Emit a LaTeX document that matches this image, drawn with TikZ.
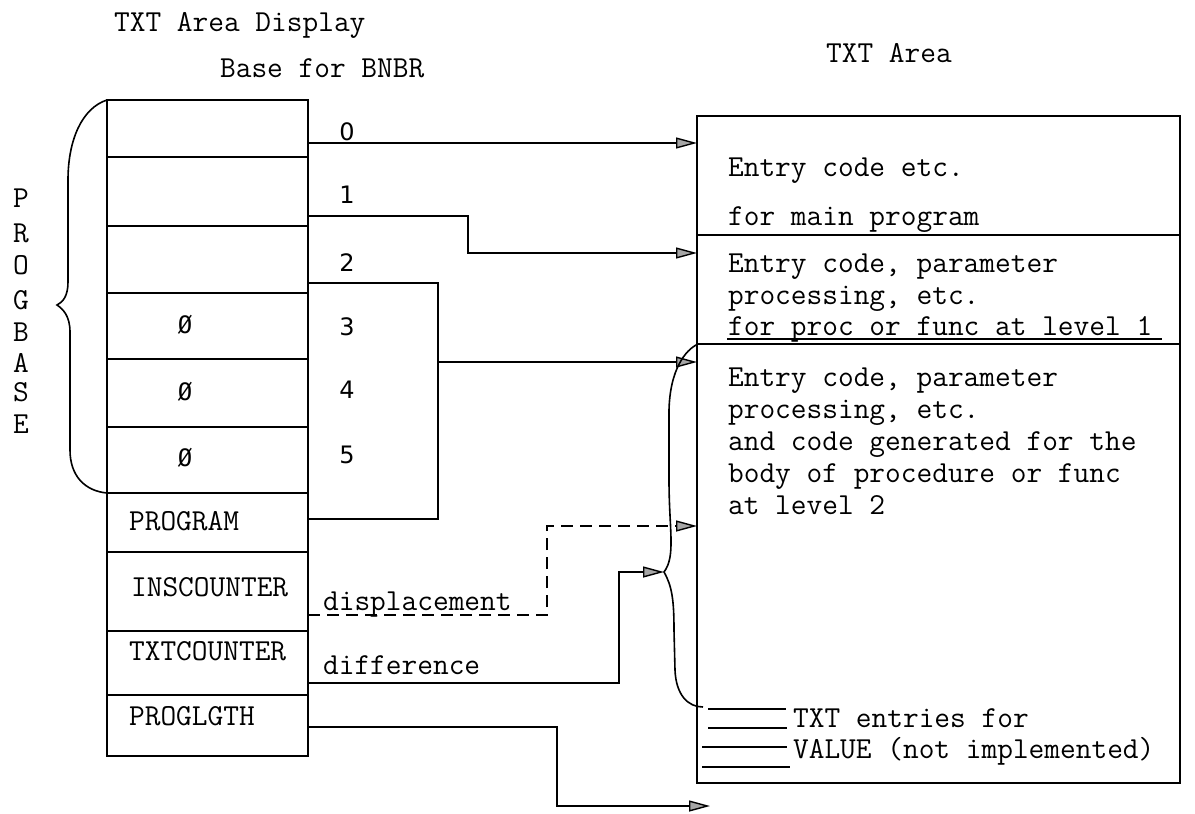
\documentclass[tikz,border=0pt]{standalone}
\usepackage{fontspec}
\newfontfamily\digfont{DejaVu Sans}
\newfontfamily\zerofont{DejaVu Sans Mono}
\usetikzlibrary{arrows.meta}
\begin{document}
\begin{tikzpicture}[x=1pt,y=-1pt,line width=2.2pt,
  txt/.style={font=\ttfamily\fontsize{30.5}{34}\selectfont,inner sep=0pt,anchor=base west},
  ltr/.style={font=\ttfamily\fontsize{30.5}{34}\selectfont,inner sep=0pt,anchor=base},
  dig/.style={font=\digfont\fontsize{24}{28}\selectfont,inner sep=0pt},
  zer/.style={font=\zerofont\fontsize{24}{28}\selectfont,inner sep=0pt},
  arr/.style={-{Triangle[length=21pt,width=11pt,fill=gray!70,line width=1.4pt]}},
  thin/.style={line width=1.6pt},
  dashline/.style={dash pattern=on 12pt off 7pt}]
\useasboundingbox (0,0) rectangle (1195,814);
% titles
\node[txt] (title1) at (113,31) {TXT Area Display};
\node[txt] (title2) at (219,77) {Base for BNBR};
\node[txt] (title3) at (825,62) {TXT Area};
% left column
\draw (107,100) rectangle (308,756);
\foreach \y in {157,226,293,359,427,493,552,631,695} \draw (107,\y) -- (308,\y);
\node[zer] (z3) at (185,325) {Ø};
\node[zer] (z4) at (185,392) {Ø};
\node[zer] (z5) at (185,458) {Ø};
\node[txt] (lprog) at (128,530) {PROGRAM};
\node[txt] (lins) at (130,596) {INSCOUNTER};
\node[txt] (ltxtc) at (128,660) {TXTCOUNTER};
\node[txt] (lplg) at (128,725) {PROGLGTH};
% PROGBASE
\foreach \l/\y [count=\i] in {P/198,R/233,O/265,G/300,B/332,A/363,S/392,E/424}
  \node[ltr] (pb\i) at (21,\y+9) {\l};
\draw[line width=1.6pt] (107,100) .. controls (82,108) and (68,140) .. (68,180) -- (68,282)
  .. controls (68,296) and (63,302) .. (57,305) .. controls (63,309) and (70,316) .. (70,332)
  -- (70,450) .. controls (70,476) and (85,491) .. (107,493);
% index numbers
\node[dig] (n0) at (347,132) {0};
\node[dig] (n1) at (347,195) {1};
\node[dig] (n2) at (347,263) {2};
\node[dig] (n3) at (347,327) {3};
\node[dig] (n4) at (347,390) {4};
\node[dig] (n5) at (347,455) {5};
% TXT area box
\draw (697,116) rectangle (1180,783);
\draw (697,235) -- (1180,235);
\draw (697,344) -- (1180,344);
\node[txt] (b1) at (727,176) {Entry code etc.};
\node[txt] (b2) at (727,225) {for main program};
\node[txt] (b3) at (727,272) {Entry code, parameter};
\node[txt] (b4) at (727,304) {processing, etc.};
\node[txt] (b5) at (727,335) {for proc or func at level 1};
\draw[line width=1.2pt] (727,339) -- (1162,339);
\node[txt] (b6) at (727,386) {Entry code, parameter};
\node[txt] (b7) at (727,418) {processing, etc.};
\node[txt] (b8) at (727,450) {and code generated for the};
\node[txt] (b9) at (727,482) {body of procedure or func};
\node[txt] (b10) at (727,514) {at level 2};
\node[txt] (b11) at (792,727) {TXT entries for};
\node[txt] (b12) at (792,758) {VALUE (not implemented)};
\draw[thin] (708,709) -- (786,709);
\draw[thin] (708,728) -- (787,728);
\draw[thin] (702,747) -- (787,747);
\draw[thin] (702,767) -- (790,767);
% connector coordinates
\coordinate (c0) at (308,143);
\coordinate (c1) at (308,216);
\coordinate (c2) at (308,283);
\coordinate (cp) at (308,519);
\coordinate (ci) at (308,615);
\coordinate (ct) at (308,683);
\coordinate (cl) at (308,727);
\coordinate (t0) at (697,143);
\coordinate (t1) at (697,253);
\coordinate (t3) at (697,362);
\coordinate (td) at (697,526);
\coordinate (cusp) at (664,572);
\coordinate (tl) at (710,806);
\coordinate (k1) at (468,235);
\coordinate (j2) at (438,400);
\coordinate (j3) at (438,362);
\coordinate (kd) at (547,570);
\coordinate (kt) at (619,620);
\coordinate (kl) at (557,760);
% connectors
\draw[arr] (c0) -- (t0);
\draw[arr] (c1) -| (k1) |- (t1);
\draw (c2) -| (j2) |- (cp);
\draw[arr] (j3) -- (t3);
\draw[arr,dashline] (ci) -| (kd) |- (td);
\draw[arr] (ct) -| (kt) |- (cusp);
\draw[arr] (cl) -| (kl) |- (tl);
\node[txt] (ldisp) at (322,610) {displacement};
\node[txt] (ldiff) at (322,674) {difference};
% right brace
\draw[line width=1.6pt] (698,344) .. controls (685,350) and (670,370) .. (669,410) -- (669,480)
  .. controls (669,530) and (676,556) .. (664,572) .. controls (672,586) and (674,600) .. (674,630)
  -- (675,670) .. controls (676,695) and (688,707) .. (703,707);
\end{tikzpicture}
\end{document}
